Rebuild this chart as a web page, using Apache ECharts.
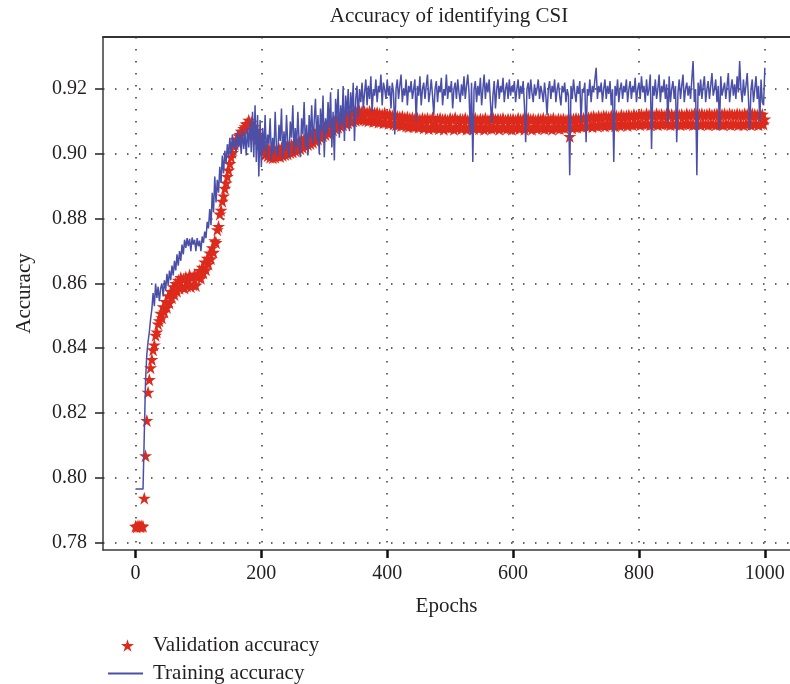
<!DOCTYPE html>
<html>
<head>
<meta charset="utf-8">
<title>Accuracy of identifying CSI</title>
<script src="https://cdn.jsdelivr.net/npm/echarts@6/dist/echarts.min.js"></script>
<style>
  html, body { margin: 0; padding: 0; background: #ffffff; }
  #chart { width: 790px; height: 684px; }
</style>
</head>
<body>
<div id="chart"></div>
<script>
// Both curves are logged every EPOCH_STEP epochs, starting at epoch 0.
const EPOCH_STEP = 2;

// Training accuracy, epochs 0..1000 (one row = 20 epochs).
const trainAcc = [
  .7965,.7965,.7965,.7965,.7965,.7965,.7965,.7965,.8300,.8380, // 0
  .8420,.8450,.8490,.8520,.8570,.8530,.8600,.8555,.8590,.8545, // 20
  .8585,.8600,.8560,.8610,.8580,.8630,.8595,.8640,.8610,.8655, // 40
  .8625,.8670,.8640,.8690,.8655,.8700,.8670,.8720,.8690,.8735, // 60
  .8710,.8740,.8715,.8738,.8700,.8742,.8720,.8735,.8700,.8740, // 80
  .8715,.8732,.8700,.8745,.8725,.8760,.8740,.8790,.8770,.8830, // 100
  .8780,.8880,.8820,.8930,.8850,.8920,.8880,.8960,.8910,.8995, // 120
  .8940,.9010,.8970,.9030,.8990,.9050,.9000,.9060,.9020,.9045, // 140
  .9005,.9070,.9020,.9060,.9000,.9075,.9015,.9065,.8995,.9080, // 160
  .9020,.9100,.9005,.9130,.8990,.9150,.8975,.9120,.8930,.9105, // 180
  .8960,.9080,.9010,.9120,.8990,.9060,.9030,.9110,.8980,.9050, // 200
  .9000,.9130,.9020,.8990,.9090,.9040,.9140,.8985,.9070,.9010, // 220
  .9120,.9030,.8990,.9100,.9050,.9150,.9000,.9080,.9020,.9130, // 240
  .9040,.8990,.9110,.9060,.9160,.9020,.9090,.8995,.9120,.9050, // 260
  .9150,.9030,.9100,.9170,.9040,.9120,.9000,.9140,.9070,.9180, // 280
  .8990,.9110,.9060,.9160,.9080,.9190,.9020,.9130,.8980,.9170, // 300
  .9100,.9200,.9050,.9150,.9090,.9210,.9040,.9180,.9120,.9200, // 320
  .9070,.9190,.9130,.9220,.9040,.9170,.9210,.9110,.9200,.9160, // 340
  .9220,.9140,.9190,.9230,.9150,.9210,.9170,.9240,.9130,.9200, // 360
  .9180,.9230,.9160,.9210,.9190,.9245,.9150,.9220,.9200,.9170, // 380
  .9230,.9180,.9210,.9140,.9220,.9190,.9060,.9200,.9230,.9170, // 400
  .9210,.9245,.9160,.9200,.9180,.9230,.9150,.9210,.9190,.9225, // 420
  .9170,.9200,.9230,.9100,.9210,.9180,.9240,.9150,.9200,.9220, // 440
  .9170,.9210,.9245,.9160,.9190,.9230,.9180,.9120,.9200,.9225, // 460
  .9160,.9210,.9190,.9235,.9150,.9200,.9180,.9245,.9170,.9210, // 480
  .9190,.9225,.9140,.9200,.9220,.9170,.9230,.9190,.9160,.9215, // 500
  .9180,.9240,.9170,.9210,.9245,.9190,.9060,.9220,.8975,.9200, // 520
  .9225,.9160,.9210,.9180,.9235,.9150,.9200,.9245,.9170,.9220, // 540
  .9190,.9230,.9160,.9095,.9180,.9225,.9140,.9200,.9230,.9170, // 560
  .9210,.9190,.9235,.9160,.9200,.9220,.9170,.9230,.9180,.9210, // 580
  .9190,.9225,.9160,.9200,.9230,.9170,.9210,.9185,.9225,.9150, // 600
  .9036,.9200,.9220,.9170,.9230,.9190,.9160,.9215,.9180,.9200, // 620
  .9230,.9170,.9210,.9190,.9160,.9220,.9180,.9120,.9200,.9225, // 640
  .9170,.9210,.9190,.9230,.9160,.9200,.9220,.9180,.9150,.9210, // 660
  .9190,.9220,.9160,.9200,.9180,.8934,.9210,.9170,.9230,.9190, // 680
  .9160,.9210,.9185,.9225,.9100,.9200,.9190,.9220,.9036,.9200, // 700
  .9180,.9230,.9160,.9210,.9190,.9230,.9266,.9170,.9210,.9190, // 720
  .9220,.9160,.9200,.9230,.9170,.9210,.9185,.9225,.9150,.9200, // 740
  .8975,.9210,.9180,.9230,.9160,.9200,.9220,.9170,.9210,.9190, // 760
  .9230,.9160,.9200,.9225,.9170,.9210,.9190,.9235,.9160,.9200, // 780
  .9220,.9170,.9240,.9190,.9210,.9160,.9230,.9180,.9200,.9245, // 800
  .9015,.9210,.9180,.9230,.9170,.9200,.9245,.9160,.9210,.9190, // 820
  .9230,.9170,.9215,.9095,.9240,.9160,.9200,.9225,.9170,.9210, // 840
  .9036,.9190,.9230,.9170,.9210,.9245,.9160,.9200,.9220,.9180, // 860
  .9210,.9170,.9230,.9287,.9160,.9200,.8934,.9220,.9180,.9230, // 880
  .9170,.9210,.9240,.9160,.9200,.9225,.9170,.9210,.9250,.9180, // 900
  .9200,.9230,.9160,.9210,.9075,.9240,.9180,.9200,.9220,.9170, // 920
  .9210,.9250,.9160,.9200,.9230,.9180,.9215,.9170,.9240,.9190, // 940
  .9287,.9200,.9160,.9230,.9180,.9210,.9250,.9170,.9075,.9200, // 960
  .9230,.9160,.9200,.9240,.9170,.9210,.9100,.9230,.9160,.9150, // 980
  .9266                                                        // 1000
];

// Validation accuracy, epochs 0..1000 (one row = 20 epochs).
const valAcc = [
  .7850,.7848,.7852,.7850,.7849,.7851,.7850,.7937,.8068,.8177, // 0
  .8264,.8303,.8340,.8365,.8395,.8410,.8440,.8450,.8475,.8485, // 20
  .8508,.8494,.8528,.8512,.8544,.8526,.8562,.8540,.8575,.8556, // 40
  .8590,.8566,.8600,.8576,.8610,.8585,.8618,.8590,.8614,.8586, // 60
  .8620,.8592,.8612,.8626,.8590,.8618,.8596,.8628,.8594,.8624, // 80
  .8620,.8640,.8616,.8650,.8632,.8666,.8642,.8678,.8660,.8694, // 100
  .8676,.8710,.8696,.8732,.8726,.8766,.8776,.8814,.8826,.8854, // 120
  .8870,.8894,.8910,.8930,.8950,.8970,.8990,.9004,.9024,.9030, // 140
  .9044,.9046,.9056,.9060,.9070,.9070,.9078,.9084,.9092,.9094, // 160
  .9104,.9088,.9098,.9074,.9084,.9058,.9072,.9046,.9056,.9030, // 180
  .9034,.9010,.9024,.8998,.9016,.8994,.9014,.8990,.9012,.8988, // 200
  .9010,.8990,.9014,.8994,.9016,.8992,.9018,.8996,.9020,.8998, // 220
  .9022,.9000,.9024,.9004,.9028,.9006,.9030,.9010,.9034,.9012, // 240
  .9038,.9016,.9042,.9020,.9046,.9024,.9050,.9029,.9054,.9032, // 260
  .9058,.9036,.9062,.9041,.9068,.9046,.9072,.9051,.9076,.9056, // 280
  .9082,.9060,.9086,.9064,.9092,.9068,.9096,.9074,.9100,.9078, // 300
  .9104,.9082,.9108,.9086,.9112,.9090,.9116,.9094,.9119,.9096, // 320
  .9122,.9100,.9126,.9102,.9129,.9104,.9130,.9106,.9132,.9108, // 340
  .9131,.9106,.9130,.9104,.9128,.9102,.9132,.9106,.9129,.9100, // 360
  .9126,.9102,.9128,.9098,.9124,.9100,.9122,.9096,.9126,.9098, // 380
  .9120,.9094,.9122,.9096,.9118,.9092,.9120,.9090,.9116,.9092, // 400
  .9114,.9088,.9116,.9090,.9112,.9086,.9114,.9084,.9110,.9088, // 420
  .9112,.9084,.9108,.9086,.9110,.9082,.9106,.9086,.9110,.9080, // 440
  .9108,.9084,.9110,.9078,.9106,.9082,.9112,.9080,.9104,.9084, // 460
  .9108,.9078,.9110,.9082,.9106,.9076,.9108,.9084,.9104,.9080, // 480
  .9110,.9082,.9106,.9076,.9112,.9080,.9104,.9084,.9108,.9078, // 500
  .9106,.9082,.9110,.9076,.9104,.9080,.9108,.9084,.9106,.9078, // 520
  .9110,.9082,.9104,.9078,.9108,.9084,.9106,.9076,.9110,.9080, // 540
  .9104,.9082,.9108,.9078,.9112,.9080,.9106,.9084,.9108,.9076, // 560
  .9106,.9082,.9110,.9080,.9104,.9078,.9108,.9084,.9106,.9076, // 580
  .9108,.9080,.9104,.9084,.9110,.9078,.9106,.9082,.9108,.9076, // 600
  .9104,.9082,.9110,.9080,.9106,.9076,.9108,.9084,.9104,.9078, // 620
  .9108,.9082,.9106,.9080,.9110,.9078,.9104,.9084,.9108,.9080, // 640
  .9106,.9076,.9110,.9082,.9104,.9080,.9108,.9078,.9106,.9084, // 660
  .9108,.9080,.9104,.9082,.9110,.9054,.9106,.9080,.9108,.9084, // 680
  .9110,.9082,.9108,.9086,.9112,.9084,.9110,.9088,.9114,.9086, // 700
  .9112,.9088,.9114,.9084,.9116,.9090,.9112,.9086,.9116,.9088, // 720
  .9114,.9090,.9118,.9086,.9116,.9092,.9114,.9088,.9118,.9090, // 740
  .9116,.9086,.9118,.9092,.9114,.9088,.9120,.9090,.9116,.9092, // 760
  .9118,.9088,.9120,.9092,.9116,.9090,.9122,.9092,.9118,.9094, // 780
  .9120,.9090,.9122,.9094,.9118,.9092,.9124,.9094,.9120,.9090, // 800
  .9122,.9092,.9118,.9094,.9124,.9090,.9120,.9094,.9122,.9092, // 820
  .9118,.9094,.9124,.9092,.9120,.9090,.9122,.9094,.9118,.9092, // 840
  .9124,.9094,.9120,.9090,.9122,.9092,.9118,.9094,.9124,.9092, // 860
  .9120,.9094,.9122,.9090,.9124,.9092,.9120,.9094,.9122,.9090, // 880
  .9124,.9094,.9120,.9092,.9122,.9090,.9124,.9094,.9120,.9092, // 900
  .9122,.9090,.9124,.9094,.9120,.9092,.9122,.9090,.9124,.9094, // 920
  .9120,.9092,.9124,.9090,.9122,.9094,.9120,.9092,.9124,.9090, // 940
  .9122,.9094,.9120,.9090,.9124,.9092,.9122,.9094,.9120,.9090, // 960
  .9124,.9092,.9122,.9094,.9120,.9090,.9124,.9094,.9122,.9092, // 980
  .9108                                                        // 1000
];

// Axis ticks.
const xTicks = [0, 200, 400, 600, 800, 1000];
const yTicks = [0.78, 0.80, 0.82, 0.84, 0.86, 0.88, 0.90, 0.92];

const FONT = '"Liberation Serif", "DejaVu Serif", serif';
const TEXT = '#231f20';
const STAR = 'path://M50,2 L61.2,36.5 L97.6,36.5 L68.2,57.9 L79.4,92.4 L50,71 L20.6,92.4 L31.8,57.9 L2.4,36.5 L38.8,36.5 Z';
const RED = '#dc2a1c';
const BLUE = '#4a4fa8';

const withEpochs = arr => arr.map((v, i) => [i * EPOCH_STEP, v]);

const dotted = { color: '#333', width: 1.5, type: [1.5, 10.5] };

const chart = echarts.init(document.getElementById('chart'), null, { renderer: 'canvas' });
chart.setOption({
  animation: false,
  backgroundColor: '#ffffff',
  graphic: [{
    type: 'text',
    x: 449, y: 16,
    style: {
      text: 'Accuracy of identifying CSI',
      font: '21px ' + FONT,
      fill: TEXT,
      align: 'center',
      verticalAlign: 'middle'
    }
  }],
  grid: { left: 103, right: 0, top: 37, bottom: 134, containLabel: false },
  legend: [
    {
      data: [{ name: 'Validation accuracy', icon: STAR }],
      left: 116, top: 630,
      itemWidth: 13, itemHeight: 13,
      selectedMode: false,
      textStyle: { fontFamily: FONT, fontSize: 21, color: TEXT, padding: [0, 0, 0, 14] }
    },
    {
      data: [{ name: 'Training accuracy', icon: 'rect' }],
      left: 103, top: 658,
      itemWidth: 35, itemHeight: 2,
      selectedMode: false,
      textStyle: { fontFamily: FONT, fontSize: 21, color: TEXT, padding: [0, 0, 0, 5] }
    }
  ],
  xAxis: [
    {
      type: 'value', min: -51.6, max: 1040,
      axisLine: { show: true, onZero: false, lineStyle: { color: '#3a3a3a', width: 1.5 } },
      axisTick: { show: true, inside: false, length: 8, customValues: xTicks,
                  lineStyle: { color: '#111', width: 2.5 } },
      axisLabel: { customValues: xTicks, margin: 14, fontFamily: FONT, fontSize: 20, color: TEXT,
                   formatter: v => String(v) },
      splitLine: { show: true, lineStyle: dotted },
      name: 'Epochs', nameLocation: 'middle', nameGap: 46,
      nameTextStyle: { fontFamily: FONT, fontSize: 21, color: TEXT }
    },
    {
      type: 'value', position: 'top', min: -51.6, max: 1040,
      axisLine: { show: true, onZero: false, lineStyle: { color: '#333', width: 2 } },
      axisTick: { show: false }, axisLabel: { show: false }, splitLine: { show: false }
    }
  ],
  yAxis: {
    type: 'value', min: 0.7777, max: 0.9361,
    axisLine: { show: true, onZero: false, lineStyle: { color: '#3a3a3a', width: 1.5 } },
    axisTick: { show: true, inside: false, length: 8, customValues: yTicks,
                lineStyle: { color: '#222', width: 1.5 } },
    axisLabel: { customValues: yTicks, margin: 16, fontFamily: FONT, fontSize: 20, color: TEXT,
                 formatter: v => v.toFixed(2) },
    splitLine: { show: true, lineStyle: dotted },
    name: 'Accuracy', nameLocation: 'middle', nameGap: 68, nameRotate: 90,
    nameTextStyle: { fontFamily: FONT, fontSize: 21, color: TEXT }
  },
  series: [
    {
      name: 'Validation accuracy',
      type: 'scatter',
      data: withEpochs(valAcc),
      symbol: STAR,
      symbolSize: 13,
      itemStyle: { color: RED, opacity: 1 },
      z: 2
    },
    {
      name: 'Training accuracy',
      type: 'line',
      data: withEpochs(trainAcc),
      showSymbol: false,
      symbol: 'none',
      lineStyle: { color: BLUE, width: 1.5 },
      itemStyle: { color: BLUE },
      z: 3
    }
  ]
});
</script>
</body>
</html>
